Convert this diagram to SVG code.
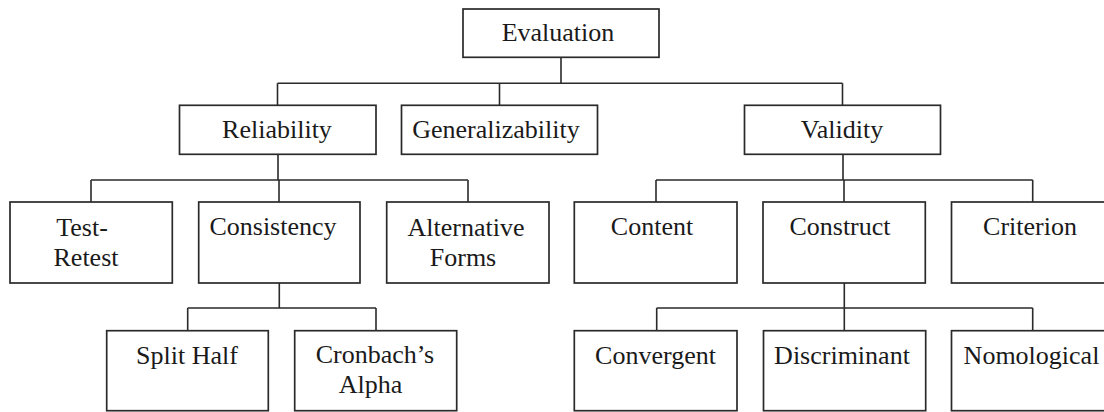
<svg xmlns="http://www.w3.org/2000/svg" width="1104" height="412" viewBox="0 0 1104 412">
<style>
.box{fill:#fff;stroke:#2a2a2a;stroke-width:1.7}
.lbl{font-family:"Liberation Serif","Times New Roman",serif;font-size:26px;fill:#1a1a1a;text-anchor:middle}
.conn{fill:none;stroke:#2a2a2a;stroke-width:1.6}
</style>
<rect width="1104" height="412" fill="#fff"/>
<g id="connectors" class="conn">
<path d="M561,57.3V83.3M277.5,83.3H842.5M277.5,83.3V105.3M499.5,83.3V105.3M842.5,83.3V105.3"/>
<path d="M278,154.3V180M91,180H468M91,180V202M279,180V202M468,180V202"/>
<path d="M843,154.3V180M656,180H1032.7M656,180V202M844,180V202M1032.7,180V202"/>
<path d="M279.3,283V308M187.7,308H376M187.7,308V330.7M376,308V330.7"/>
<path d="M844.3,283V308M656.7,308H1032.7M656.7,308V330.7M844.3,308V330.7M1032.7,308V330.7"/>
</g>
<g id="evaluation"><rect class="box" x="463" y="9" width="196" height="48.3"/><text class="lbl" x="558" y="41">Evaluation</text></g>
<g id="reliability"><rect class="box" x="179.5" y="105.3" width="196.5" height="49"/><text class="lbl" x="277" y="138">Reliability</text></g>
<g id="generalizability"><rect class="box" x="401.5" y="105.3" width="196" height="49"/><text class="lbl" x="496" y="138">Generalizability</text></g>
<g id="validity"><rect class="box" x="744.5" y="105.3" width="196" height="49"/><text class="lbl" x="842" y="138">Validity</text></g>
<g id="test-retest"><rect class="box" x="10" y="202" width="162.3" height="81"/><text class="lbl"><tspan x="82" y="236">Test-</tspan><tspan x="86" y="265.5">Retest</tspan></text></g>
<g id="consistency"><rect class="box" x="198.7" y="202" width="161.3" height="81"/><text class="lbl" x="273" y="235">Consistency</text></g>
<g id="alternative-forms"><rect class="box" x="386.7" y="202" width="162.3" height="81"/><text class="lbl"><tspan x="466" y="236">Alternative</tspan><tspan x="463" y="265.5">Forms</tspan></text></g>
<g id="content"><rect class="box" x="574.3" y="202" width="162.7" height="81"/><text class="lbl" x="652" y="235">Content</text></g>
<g id="construct"><rect class="box" x="763" y="202" width="162.3" height="81"/><text class="lbl" x="840" y="235">Construct</text></g>
<g id="criterion"><rect class="box" x="951.5" y="202" width="162.5" height="81"/><text class="lbl" x="1030" y="235">Criterion</text></g>
<g id="split-half"><rect class="box" x="106.7" y="330.7" width="161.6" height="80"/><text class="lbl" x="187" y="363.5">Split Half</text></g>
<g id="cronbachs-alpha"><rect class="box" x="294.7" y="330.7" width="162" height="80"/><text class="lbl"><tspan x="375" y="363">Cronbach’s</tspan><tspan x="370.5" y="393">Alpha</tspan></text></g>
<g id="convergent"><rect class="box" x="574.3" y="330.7" width="162.7" height="80"/><text class="lbl" x="655.5" y="363.5">Convergent</text></g>
<g id="discriminant"><rect class="box" x="763.5" y="330.7" width="162.2" height="80"/><text class="lbl" x="842" y="363.5">Discriminant</text></g>
<g id="nomological"><rect class="box" x="951.5" y="330.7" width="162.5" height="80"/><text class="lbl" x="1031.5" y="363.5">Nomological</text></g>
</svg>
